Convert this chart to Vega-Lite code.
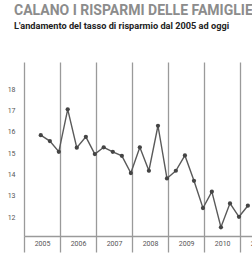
{
  "$schema": "https://vega.github.io/schema/vega-lite/v6.json",
  "width": 228,
  "height": 174,
  "autosize": {"type": "none"},
  "padding": {"left": 24, "top": 62, "right": 0, "bottom": 18},
  "background": "#ffffff",
  "config": {"view": {"stroke": null}},
  "title": {
    "text": "CALANO I RISPARMI DELLE FAMIGLIE",
    "subtitle": "L'andamento del tasso di risparmio dal 2005 ad oggi",
    "anchor": "start",
    "frame": "group",
    "dx": -10,
    "offset": 31,
    "font": "Roboto",
    "fontSize": 14,
    "fontWeight": "bold",
    "color": "#8c8c8c",
    "subtitleFont": "Roboto",
    "subtitleFontSize": 9.2,
    "subtitleFontWeight": "bold",
    "subtitleColor": "#222222",
    "subtitlePadding": 4
  },
  "data": {
    "values": [
      {"date": "2005-06-20", "v": 15.84},
      {"date": "2005-09-20", "v": 15.56},
      {"date": "2005-12-20", "v": 15.06},
      {"date": "2006-03-20", "v": 17.05},
      {"date": "2006-06-20", "v": 15.25},
      {"date": "2006-09-20", "v": 15.76},
      {"date": "2006-12-20", "v": 14.95},
      {"date": "2007-03-20", "v": 15.27},
      {"date": "2007-06-20", "v": 15.06},
      {"date": "2007-09-20", "v": 14.87},
      {"date": "2007-12-20", "v": 14.06},
      {"date": "2008-03-20", "v": 15.27},
      {"date": "2008-06-20", "v": 14.17},
      {"date": "2008-09-20", "v": 16.28},
      {"date": "2008-12-20", "v": 13.81},
      {"date": "2009-03-20", "v": 14.17},
      {"date": "2009-06-20", "v": 14.89},
      {"date": "2009-09-20", "v": 13.7},
      {"date": "2009-12-20", "v": 12.42},
      {"date": "2010-03-20", "v": 13.19},
      {"date": "2010-06-20", "v": 11.52},
      {"date": "2010-09-20", "v": 12.64},
      {"date": "2010-12-20", "v": 12.01},
      {"date": "2011-03-20", "v": 12.53}
    ]
  },
  "encoding": {
    "x": {
      "field": "date",
      "type": "temporal",
      "scale": {"type": "utc", "domain": ["2005-01-01", "2011-05-01"]},
      "axis": {
        "title": null,
        "format": "%Y",
        "tickCount": {"interval": "year", "step": 1},
        "labelOffset": 18,
        "labelFont": "Roboto",
        "labelFontSize": 7,
        "labelColor": "#555555",
        "labelPadding": -13,
        "labelAlign": "center",
        "labelFlush": false,
        "labelOverlap": false,
        "ticks": true,
        "tickSize": 16,
        "tickColor": "#9a9a9a",
        "tickWidth": 1.3,
        "domainColor": "#9a9a9a",
        "domainWidth": 1.3,
        "grid": true,
        "gridColor": "#9a9a9a",
        "gridWidth": 1.3
      }
    },
    "y": {
      "field": "v",
      "type": "quantitative",
      "scale": {"domain": [11.11, 19.27], "nice": false, "zero": false},
      "axis": {
        "title": null,
        "values": [12, 13, 14, 15, 16, 17, 18],
        "domain": false,
        "ticks": false,
        "grid": false,
        "labelFont": "Roboto",
        "labelFontSize": 7,
        "labelColor": "#555555",
        "labelPadding": 9
      }
    }
  },
  "layer": [
    {"mark": {"type": "line", "color": "#5a5a5a", "strokeWidth": 1.4}},
    {"mark": {"type": "point", "filled": true, "color": "#444444", "size": 18, "opacity": 1}}
  ]
}
